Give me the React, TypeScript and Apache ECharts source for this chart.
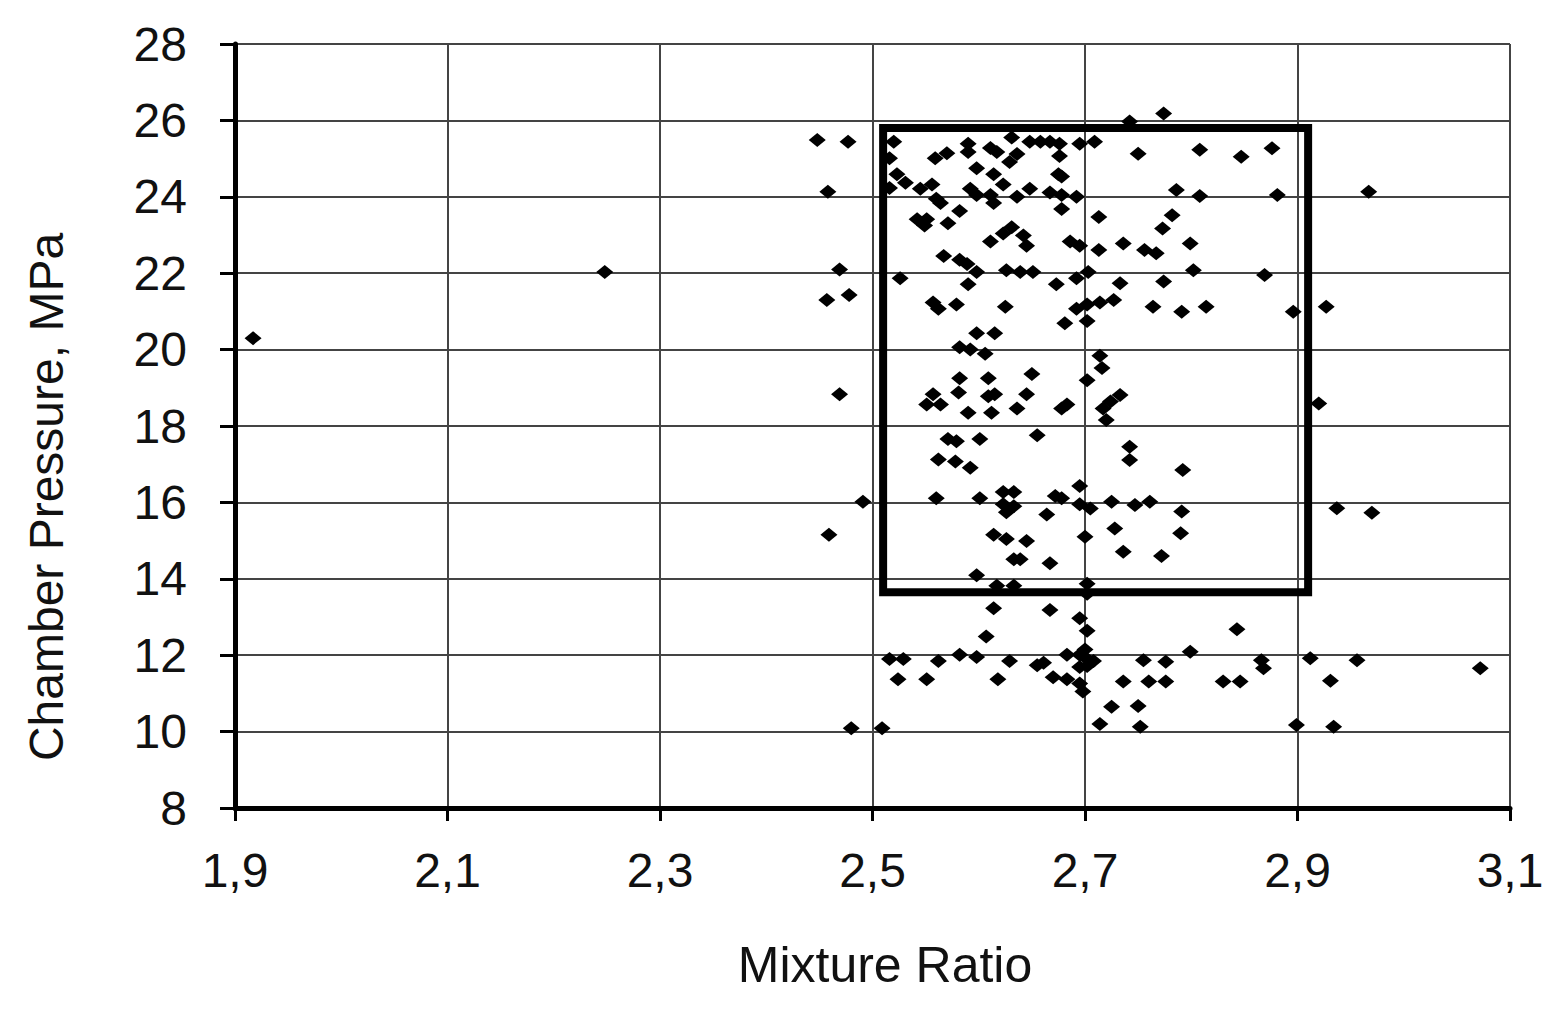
import React, { useEffect, useRef } from "react";
import * as echarts from "echarts";

const xTickStart = 1.9;
const xTickEnd = 3.1;
const yTickStart = 8;
const yTickEnd = 28;

const ratio = [
  2.520, 2.516, 2.559, 2.570, 2.590, 2.590, 2.611, 2.617, 2.631, 2.629,
  2.636, 2.648, 2.658, 2.667, 2.676, 2.676, 2.695, 2.709, 2.598, 2.614,
  2.623, 2.675, 2.678, 2.523, 2.531, 2.545, 2.556, 2.560, 2.564, 2.592,
  2.598, 2.611, 2.614, 2.636, 2.648, 2.667, 2.678, 2.678, 2.692, 2.713,
  2.542, 2.549, 2.551, 2.571, 2.582, 2.611, 2.623, 2.631, 2.642, 2.645,
  2.686, 2.695, 2.713, 2.567, 2.582, 2.589, 2.598, 2.526, 2.626, 2.639,
  2.651, 2.590, 2.673, 2.692, 2.703, 2.557, 2.562, 2.579, 2.625, 2.692,
  2.702, 2.714, 2.681, 2.702, 2.598, 2.615, 2.582, 2.592, 2.606, 2.714,
  2.716, 2.582, 2.609, 2.650, 2.702, 2.557, 2.551, 2.564, 2.581, 2.590,
  2.609, 2.615, 2.612, 2.636, 2.645, 2.678, 2.683, 2.717, 2.571, 2.579,
  2.601, 2.655, 2.562, 2.578, 2.592, 2.560, 2.601, 2.623, 2.633, 2.623,
  2.633, 2.626, 2.672, 2.678, 2.695, 2.695, 2.705, 2.664, 2.614, 2.626,
  2.645, 2.633, 2.639, 2.667, 2.700, 2.598, 2.617, 2.633, 2.702, 2.702,
  2.614, 2.667, 2.695, 2.702, 2.607, 2.516, 2.529, 2.562, 2.582, 2.598,
  2.629, 2.655, 2.661, 2.683, 2.695, 2.702, 2.708, 2.695, 2.524, 2.551,
  2.618, 2.670, 2.683, 2.695, 2.698, 2.509, 2.714,
  2.742, 2.774, 2.750, 2.808, 2.847, 2.876, 2.786, 2.808, 2.881, 2.782,
  2.773, 2.736, 2.756, 2.767, 2.799, 2.802, 2.869, 2.733, 2.774, 2.727,
  2.764, 2.791, 2.814,
  2.967, 2.927, 2.896,
  2.724, 2.733, 2.720, 2.742, 2.742, 2.792, 2.725, 2.747, 2.761, 2.791,
  2.920, 2.937, 2.970,
  2.728, 2.790, 2.736, 2.772, 2.843, 2.799, 2.755, 2.776, 2.866, 2.868,
  2.736, 2.760, 2.776, 2.830, 2.846, 2.725, 2.750, 2.752, 2.899, 2.700,
  2.702,
  2.912, 2.956, 3.072, 2.931, 2.934,
  2.448, 2.477, 2.458, 2.469, 2.457, 2.478, 2.469, 2.491, 2.459, 2.480,
  2.516,
  1.917, 2.248,
];

const pressure = [
  25.44, 25.01, 25.01, 25.14, 25.39, 25.17, 25.28, 25.17, 25.55, 24.91,
  25.12, 25.44, 25.44, 25.44, 25.39, 25.07, 25.39, 25.44, 24.75, 24.59,
  24.32, 24.59, 24.53, 24.59, 24.37, 24.21, 24.32, 23.95, 23.84, 24.21,
  24.05, 24.05, 23.84, 24.00, 24.21, 24.11, 24.05, 23.68, 24.00, 23.47,
  23.41, 23.25, 23.41, 23.31, 23.63, 22.83, 23.04, 23.20, 22.99, 22.72,
  22.83, 22.72, 22.61, 22.45, 22.35, 22.24, 22.03, 21.87, 22.08, 22.03,
  22.03, 21.71, 21.71, 21.87, 22.03, 21.23, 21.07, 21.18, 21.12, 21.07,
  21.18, 21.23, 20.69, 20.75, 20.43, 20.43, 20.06, 20.00, 19.89, 19.84,
  19.52, 19.25, 19.25, 19.36, 19.20, 18.83, 18.56, 18.56, 18.88, 18.35,
  18.78, 18.83, 18.35, 18.46, 18.83, 18.46, 18.56, 18.46, 17.66, 17.60,
  17.66, 17.76, 17.12, 17.07, 16.91, 16.11, 16.11, 16.27, 16.27, 15.95,
  15.90, 15.74, 16.17, 16.11, 16.43, 15.95, 15.84, 15.68, 15.15, 15.04,
  14.99, 14.51, 14.51, 14.41, 15.10, 14.09, 13.82, 13.82, 13.87, 13.61,
  13.23, 13.18, 12.97, 12.64, 12.49, 11.90, 11.90, 11.85, 12.01, 11.95,
  11.85, 11.74, 11.80, 12.01, 12.01, 11.90, 11.85, 11.69, 11.37, 11.37,
  11.37, 11.42, 11.37, 11.26, 11.05, 10.09, 10.20,
  25.97, 26.18, 25.13, 25.23, 25.05, 25.27, 24.18, 24.02, 24.05, 23.52,
  23.17, 22.78, 22.61, 22.52, 22.78, 22.08, 21.95, 21.74, 21.78, 21.30,
  21.12, 20.99, 21.12,
  24.13, 21.12, 20.99,
  18.64, 18.81, 18.16, 17.46, 17.11, 16.85, 16.02, 15.93, 16.02, 15.76,
  18.59, 15.85, 15.73,
  15.32, 15.19, 14.71, 14.60, 12.68, 12.09, 11.87, 11.83, 11.87, 11.66,
  11.31, 11.31, 11.31, 11.31, 11.31, 10.65, 10.67, 10.13, 10.17, 12.15,
  11.72,
  11.92, 11.87, 11.66, 11.33, 10.13,
  25.49, 25.44, 24.13, 22.10, 21.30, 21.43, 18.83, 16.02, 15.15, 10.09,
  24.23,
  20.30, 22.03,
];

const boxRatio = [2.51, 2.91];
const boxPressure = [13.65, 25.8];

const xTitle = "Mixture Ratio";
const yTitle = "Chamber Pressure, MPa";

const FONT = "'Liberation Sans', Arial, sans-serif";

export default function App() {
  const ref = useRef<HTMLDivElement>(null);

  useEffect(() => {
    if (!ref.current) return;
    const chart = echarts.init(ref.current, null, { renderer: "svg" });
    const shift = (v: number) => +(v - xTickStart).toFixed(4);
    const points = ratio.map((r, i) => [shift(r), pressure[i]]);
    const box = [
      [shift(boxRatio[0]), boxPressure[0]],
      [shift(boxRatio[0]), boxPressure[1]],
      [shift(boxRatio[1]), boxPressure[1]],
      [shift(boxRatio[1]), boxPressure[0]],
      [shift(boxRatio[0]), boxPressure[0]],
    ];
    chart.setOption({
      animation: false,
      backgroundColor: "#ffffff",
      grid: { left: 235, right: 44, top: 44, bottom: 203, containLabel: false },
      graphic: [
        {
          type: "text",
          x: 46,
          y: 497,
          rotation: Math.PI / 2,
          style: {
            text: yTitle,
            fontFamily: FONT,
            fontSize: 48,
            fill: "#111",
            align: "center",
            verticalAlign: "middle",
          },
        },
        {
          type: "text",
          x: 885,
          y: 965,
          style: {
            text: xTitle,
            fontFamily: FONT,
            fontSize: 50,
            fill: "#111",
            align: "center",
            verticalAlign: "middle",
          },
        },
      ],
      xAxis: {
        type: "value",
        min: 0,
        max: +(xTickEnd - xTickStart).toFixed(4),
        interval: 0.2,
        axisLine: { show: true, onZero: false, lineStyle: { color: "#000", width: 5 } },
        axisTick: { show: true, length: 13, lineStyle: { color: "#000", width: 3 } },
        axisLabel: {
          margin: 38,
          fontFamily: FONT,
          fontSize: 48,
          color: "#111",
          formatter: (v: number) => (v + xTickStart).toFixed(1).replace(".", ","),
        },
        splitLine: { show: true, lineStyle: { color: "#444", width: 2 } },
      },
      yAxis: {
        type: "value",
        min: yTickStart,
        max: yTickEnd,
        interval: 2,
        axisLine: { show: true, onZero: false, lineStyle: { color: "#000", width: 5 } },
        axisTick: { show: true, length: 15, lineStyle: { color: "#000", width: 3 } },
        axisLabel: { margin: 48, fontFamily: FONT, fontSize: 48, color: "#111" },
        splitLine: { show: true, lineStyle: { color: "#444", width: 2 } },
      },
      series: [
        {
          type: "scatter",
          data: points,
          symbol: "diamond",
          symbolSize: [17, 14],
          itemStyle: { color: "#000", opacity: 1 },
          z: 3,
        },
        {
          type: "line",
          data: box,
          showSymbol: false,
          symbol: "none",
          lineStyle: { color: "#000", width: 8, join: "miter", cap: "square" },
          z: 4,
          silent: true,
        },
      ],
    });
    return () => chart.dispose();
  }, []);

  return (
    <div
      ref={ref}
      style={{ position: "fixed", left: 0, top: 0, width: 1554, height: 1011, background: "#fff" }}
    />
  );
}
